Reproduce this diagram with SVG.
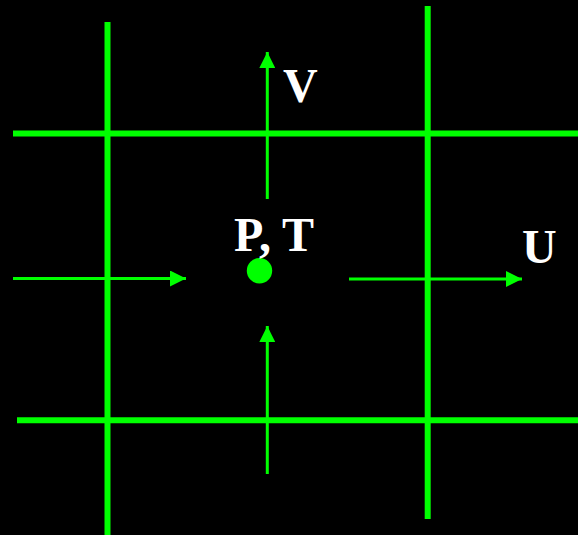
<svg xmlns="http://www.w3.org/2000/svg" width="578" height="535" viewBox="0 0 578 535">
<style>
.grid{stroke:#00ff00;stroke-width:6;fill:none}
.arr{stroke:#00ff00;stroke-width:3;fill:none}
.lbl{font-family:"Liberation Serif","Times New Roman",serif;font-weight:bold;font-size:48px;fill:#ffffff}
</style>
<defs>
<marker id="ah" markerUnits="userSpaceOnUse" markerWidth="16" markerHeight="16" refX="16" refY="8" orient="auto">
<path d="M0,0 L16,8 L0,16 Z" fill="#00ff00"/>
</marker>
</defs>
<rect x="0" y="0" width="578" height="535" fill="#000000"/>
<g id="grid">
<line class="grid" x1="13" y1="133.5" x2="578" y2="133.5"/>
<line class="grid" x1="17" y1="420.3" x2="578" y2="420.3"/>
<line class="grid" x1="107.5" y1="22" x2="107.5" y2="535"/>
<line class="grid" x1="427.7" y1="6" x2="427.7" y2="519"/>
</g>
<g id="connectors">
<line class="arr" x1="267.3" y1="199" x2="267.3" y2="52" marker-end="url(#ah)"/>
<line class="arr" x1="267.3" y1="474" x2="267.3" y2="326" marker-end="url(#ah)"/>
<line class="arr" x1="13" y1="278.5" x2="186" y2="278.5" marker-end="url(#ah)"/>
<line class="arr" x1="349" y1="279" x2="522" y2="279" marker-end="url(#ah)"/>
</g>
<g id="node-PT">
<circle cx="259.5" cy="270.7" r="12.7" fill="#00ff00"/>
<text class="lbl" x="234" y="251">P, T</text>
</g>
<g id="node-V">
<text class="lbl" x="283" y="102">V</text>
</g>
<g id="node-U">
<text class="lbl" x="522" y="263">U</text>
</g>
</svg>
